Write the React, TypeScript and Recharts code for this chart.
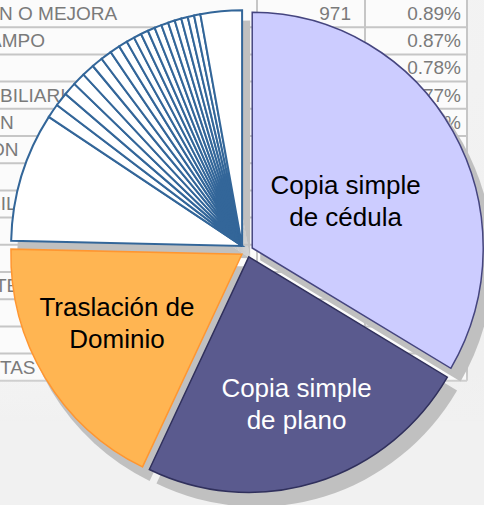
import React from 'react';
import { PieChart, Pie, Cell } from 'recharts';

// slices, clockwise from 12 o'clock
const sliceNames = [
  'Copia simple de cédula',
  'Copia simple de plano',
  'Traslación de Dominio',
  'Certificado de hipotecas',
  'Trámite 5', 'Trámite 6', 'Trámite 7', 'Trámite 8', 'Trámite 9', 'Trámite 10',
  'Trámite 11', 'Trámite 12', 'Trámite 13', 'Trámite 14', 'Trámite 15', 'Trámite 16',
  'Trámite 17', 'Trámite 18', 'Trámite 19', 'Trámite 20', 'Trámite 21', 'Trámite 22',
  'Trámite 23', 'Trámite 24',
  'Otros',
];
const sliceShares = [
  33.6, 23.6, 18.3, 8.9,
  0.98, 0.95, 0.92, 0.89, 0.87, 0.78, 0.77, 0.7, 0.62, 0.57,
  0.54, 0.52, 0.51, 0.5, 0.49, 0.48, 0.47, 0.46, 0.45, 0.44,
  2.9,
];
// which exploded piece each slice belongs to
const sliceGroup = sliceShares.map((_, i) => (i < 3 ? i : 3));

// table behind the chart
const tableLabels = ['N O MEJORA', 'AMPO', '', 'BILIARIA', 'N', 'ON', '', 'BILIDAD', '', '', 'TE', '', '', 'TAS'];
const tableCounts = ['971', '949'];
const tablePercents = ['0.89%', '0.87%', '0.78%', '0.77%', '0.70%'];

const labelShift = [-1, -11, 0, 0, 0, -10, 0, -12, 0, 0, -5, 0, 0, 0];

const groupFill = ['#CCCCFF', '#5A5A8E', '#FFB552', '#FFFFFF'];
const groupStroke = ['#45457F', '#30305C', '#FF9630', '#336699'];
const labelLines = [['Copia simple', 'de cédula'], ['Copia simple', 'de plano'], ['Traslación de', 'Dominio']];
const labelColor = ['#000000', '#FFFFFF', '#000000'];
const labelRadius = [104, 154, 142];
const labelNudge = [[3, 5], [3, -3], [-4, -7]];

const W = 484;
const H = 505;
const CX = 247;
const CY = 251;
const R = 231;
const STRETCH_Y = 1.02;
const explode = [6, 6, 6, 7];
const SHADOW = { dx: 8, dy: 12, grow: 2 };
const FONT = 'Arial, "Liberation Sans", sans-serif';
const ROW = 27.2;

const total = sliceShares.reduce((a, b) => a + b, 0);
const data = sliceNames.map((name, i) => ({ name, value: sliceShares[i] }));

function groupCenter(g: number) {
  let acc = 0;
  let start = -1;
  let end = 0;
  sliceShares.forEach((v, i) => {
    if (sliceGroup[i] === g) {
      if (start < 0) start = acc;
      end = acc + v;
    }
    acc += v;
  });
  const mid = ((start + end) / 2 / total) * 2 * Math.PI;
  return { x: CX + explode[g] * Math.sin(mid), y: CY - explode[g] * Math.cos(mid) };
}

const groups = [0, 1, 2, 3];
const centers = groups.map(groupCenter);

const renderLabel = (g: number) => (props: any) => {
  if (g > 2 || sliceGroup[props.index] !== g) return null;
  const rad = (props.midAngle * Math.PI) / 180;
  const x = centers[g].x + labelRadius[g] * Math.cos(rad) + labelNudge[g][0];
  const y = centers[g].y - labelRadius[g] * Math.sin(rad) + labelNudge[g][1];
  return (
    <text x={x} y={y} textAnchor="middle" fill={labelColor[g]} fontSize={26} fontFamily={FONT}>
      <tspan x={x} y={y - 6.5}>{labelLines[g][0]}</tspan>
      <tspan x={x} y={y + 24.5}>{labelLines[g][1]}</tspan>
    </text>
  );
};

const Background = () => {
  const tableH = ROW * tableLabels.length;
  return (
    <svg width={W} height={H} style={{ position: 'absolute', left: 0, top: 0 }}>
      <defs>
        <linearGradient id="bg" x1="0" y1="0" x2="1" y2="1">
          <stop offset="0%" stopColor="#f6f6f6" />
          <stop offset="100%" stopColor="#efefef" />
        </linearGradient>
        <linearGradient id="fade" x1="0" y1="0" x2="0" y2="1">
          <stop offset="0%" stopColor="#f1f1f1" stopOpacity={0} />
          <stop offset="100%" stopColor="#f1f1f1" stopOpacity={1} />
        </linearGradient>
      </defs>
      <rect width={W} height={H} fill="url(#bg)" />
      <rect x={-10} y={0} width={477} height={tableH} fill="#fbfbfb" />
      {tableLabels.map((_, i) => (
        <line key={'h' + i} x1={-10} x2={467} y1={(i + 1) * ROW} y2={(i + 1) * ROW} stroke="#c6c6c6" strokeWidth={2} />
      ))}
      {[257, 365, 467].map((x) => (
        <line key={'v' + x} x1={x} x2={x} y1={0} y2={tableH} stroke="#c6c6c6" strokeWidth={2} />
      ))}
      {tableLabels.map((t, i) => (
        <text key={'l' + i} x={labelShift[i]} y={i * ROW + 20} fontSize={19} fontFamily={FONT} fill="#7a7a7a">{t}</text>
      ))}
      {tableCounts.map((t, i) => (
        <text key={'c' + i} x={351} y={i * ROW + 20} fontSize={19} fontFamily={FONT} fill="#7a7a7a" textAnchor="end">{t}</text>
      ))}
      {tablePercents.map((t, i) => (
        <text key={'p' + i} x={461} y={i * ROW + 20} fontSize={19} fontFamily={FONT} fill="#7a7a7a" textAnchor="end">{t}</text>
      ))}
      <rect x={-10} y={tableH - 10} width={W + 20} height={50} fill="url(#fade)" />
      <rect x={-10} y={tableH + 40} width={W + 20} height={H} fill="#f1f1f1" />
    </svg>
  );
};

export default function App() {
  return (
    <div style={{ position: 'absolute', left: 0, top: 0, width: W, height: H, overflow: 'hidden' }}>
      <Background />
      <div
        style={{
          position: 'absolute',
          left: 0,
          top: 0,
          transform: `scaleY(${STRETCH_Y})`,
          transformOrigin: `0px ${CY}px`,
        }}
      >
        <PieChart width={W} height={H} margin={{ top: 0, right: 0, bottom: 0, left: 0 }}>
          {groups.map((g) => (
            <Pie
              key={'s' + g}
              data={data}
              dataKey="value"
              nameKey="name"
              cx={centers[g].x + SHADOW.dx}
              cy={centers[g].y + SHADOW.dy}
              outerRadius={R + SHADOW.grow}
              startAngle={90}
              endAngle={-270}
              isAnimationActive={false}
              stroke="none"
            >
              {data.map((d, i) => (
                <Cell key={i} fill={sliceGroup[i] === g ? '#c0c0c0' : 'none'} stroke="none" />
              ))}
            </Pie>
          ))}
          {groups.map((g) => (
            <Pie
              key={'m' + g}
              data={data}
              dataKey="value"
              nameKey="name"
              cx={centers[g].x}
              cy={centers[g].y}
              outerRadius={R}
              startAngle={90}
              endAngle={-270}
              isAnimationActive={false}
              labelLine={false}
              label={renderLabel(g)}
            >
              {data.map((d, i) => (
                <Cell
                  key={i}
                  fill={sliceGroup[i] === g ? groupFill[g] : 'none'}
                  stroke={sliceGroup[i] === g ? groupStroke[g] : 'none'}
                  strokeWidth={g === 3 ? 2 : 1.5}
                />
              ))}
            </Pie>
          ))}
        </PieChart>
      </div>
    </div>
  );
}
